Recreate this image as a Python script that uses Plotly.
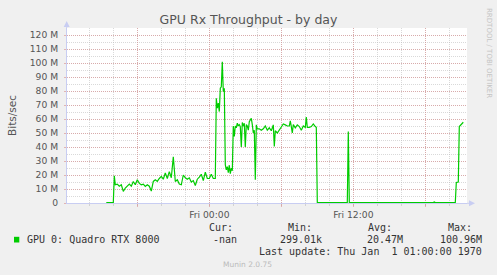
import plotly.graph_objects as go

# ---- data (Mbit/s) ----
times = [
    "2024-01-04 15:25", "2024-01-04 16:00", "2024-01-04 16:05", "2024-01-04 16:10",
    "2024-01-04 16:20", "2024-01-04 16:30", "2024-01-04 16:40", "2024-01-04 16:50",
    "2024-01-04 17:00", "2024-01-04 17:10", "2024-01-04 17:20", "2024-01-04 17:30",
    "2024-01-04 17:40", "2024-01-04 17:50", "2024-01-04 18:00", "2024-01-04 18:10",
    "2024-01-04 18:20", "2024-01-04 18:30", "2024-01-04 18:40", "2024-01-04 18:50",
    "2024-01-04 19:00", "2024-01-04 19:10", "2024-01-04 19:20", "2024-01-04 19:30",
    "2024-01-04 19:40", "2024-01-04 19:50", "2024-01-04 20:00", "2024-01-04 20:10",
    "2024-01-04 20:20", "2024-01-04 20:30", "2024-01-04 20:40", "2024-01-04 20:50",
    "2024-01-04 21:00", "2024-01-04 21:10", "2024-01-04 21:20", "2024-01-04 21:30",
    "2024-01-04 21:40", "2024-01-04 21:50", "2024-01-04 22:00", "2024-01-04 22:10",
    "2024-01-04 22:20", "2024-01-04 22:30", "2024-01-04 22:40", "2024-01-04 22:50",
    "2024-01-04 23:00", "2024-01-04 23:10", "2024-01-04 23:20", "2024-01-04 23:30",
    "2024-01-04 23:40", "2024-01-04 23:50", "2024-01-05 00:00", "2024-01-05 00:10",
    "2024-01-05 00:20", "2024-01-05 00:30", "2024-01-05 00:35", "2024-01-05 00:40",
    "2024-01-05 00:45", "2024-01-05 00:50", "2024-01-05 00:55", "2024-01-05 01:00",
    "2024-01-05 01:05", "2024-01-05 01:10", "2024-01-05 01:15", "2024-01-05 01:20",
    "2024-01-05 01:25", "2024-01-05 01:30", "2024-01-05 01:35", "2024-01-05 01:40",
    "2024-01-05 01:45", "2024-01-05 01:50", "2024-01-05 01:55", "2024-01-05 02:00",
    "2024-01-05 02:05", "2024-01-05 02:10", "2024-01-05 02:15", "2024-01-05 02:20",
    "2024-01-05 02:25", "2024-01-05 02:30", "2024-01-05 02:35", "2024-01-05 02:40",
    "2024-01-05 02:45", "2024-01-05 02:50", "2024-01-05 02:55", "2024-01-05 03:00",
    "2024-01-05 03:05", "2024-01-05 03:10", "2024-01-05 03:15", "2024-01-05 03:20",
    "2024-01-05 03:25", "2024-01-05 03:30", "2024-01-05 03:35", "2024-01-05 03:40",
    "2024-01-05 03:45", "2024-01-05 03:50", "2024-01-05 03:55", "2024-01-05 04:00",
    "2024-01-05 04:10", "2024-01-05 04:20", "2024-01-05 04:30", "2024-01-05 04:40",
    "2024-01-05 04:50", "2024-01-05 05:00", "2024-01-05 05:10", "2024-01-05 05:20",
    "2024-01-05 05:25", "2024-01-05 05:30", "2024-01-05 05:40", "2024-01-05 05:50",
    "2024-01-05 06:00", "2024-01-05 06:10", "2024-01-05 06:20", "2024-01-05 06:30",
    "2024-01-05 06:40", "2024-01-05 06:45", "2024-01-05 06:50", "2024-01-05 06:55",
    "2024-01-05 07:00", "2024-01-05 07:10", "2024-01-05 07:20", "2024-01-05 07:30",
    "2024-01-05 07:40", "2024-01-05 07:50", "2024-01-05 08:00", "2024-01-05 08:05",
    "2024-01-05 08:10", "2024-01-05 08:20", "2024-01-05 08:30", "2024-01-05 08:40",
    "2024-01-05 08:50", "2024-01-05 08:55", "2024-01-05 09:00", "2024-01-05 11:30",
    "2024-01-05 11:35", "2024-01-05 11:40", "2024-01-05 18:40", "2024-01-05 18:45",
    "2024-01-05 18:50", "2024-01-05 20:30", "2024-01-05 20:35", "2024-01-05 20:40",
    "2024-01-05 20:45", "2024-01-05 20:50", "2024-01-05 20:55", "2024-01-05 21:00",
    "2024-01-05 21:05", "2024-01-05 21:10",
]
rx_mbits = [
    0.3, 0.3, 19.5, 13,
    13.5, 12, 13, 8.3,
    10.7, 12, 13.5, 12,
    15.4, 13, 16.6, 14,
    13, 13.5, 11.8, 13,
    12, 8.5, 15.4, 16.6,
    15.4, 17.5, 19, 17,
    21.5, 17.5, 22.4, 18,
    33, 15.4, 16.6, 13.5,
    13, 20, 18, 17,
    18, 15, 16, 12.5,
    17, 18.5, 20.5, 16,
    22, 17.5, 17.5, 20.5,
    17.5, 17.5, 74.8, 67.7,
    71.3, 65.3, 82, 83,
    100.96, 79.5, 82, 27.3,
    23.7, 26, 21.7, 27,
    21, 25, 23, 55,
    47.5, 55, 53.7, 57,
    55, 56, 54.6, 40,
    57.5, 55, 57, 40,
    56, 55, 52, 58,
    59.5, 60.5, 56, 50,
    52, 16.6, 55.8, 53,
    53, 52, 53, 55,
    52, 53.7, 51.6, 55.8,
    40.3, 51.6, 50, 52,
    54.6, 56.5, 55.8, 55,
    55, 58.6, 54.6, 50,
    56, 53.7, 55.8, 54.6,
    52, 55, 54, 61.3,
    54, 54, 54.6, 56.5,
    54.6, 54, 0.3, 0.3,
    51, 0.3, 0.3, 0.8,
    0.3, 0.3, 14.7, 14.7,
    15, 54.6, 55.5, 56.5,
    57, 57.7,
]

y_tickvals = [0, 10, 20, 30, 40, 50, 60, 70, 80, 90, 100, 110, 120]
y_ticktext = ["0", "10 M", "20 M", "30 M", "40 M", "50 M", "60 M", "70 M",
              "80 M", "90 M", "100 M", "110 M", "120 M"]
x_tickvals = ["2024-01-04 18:00", "2024-01-05 00:00", "2024-01-05 06:00",
              "2024-01-05 12:00", "2024-01-05 18:00"]
x_ticktext = ["", "Fri 00:00", "", "Fri 12:00", ""]
x_range = ["2024-01-04 12:08:30", "2024-01-05 21:28:30"]
y_range = [0, 125]

series_name = "GPU 0: Quadro RTX 8000"
stat_cur, stat_min, stat_avg, stat_max = "-nan", "299.01k", "20.47M", "100.96M"

# ---- layout helpers (pixel -> paper) ----
W, H = 497, 275
L, R, T, B = 67, 30, 28, 72
PW, PH = W - L - R, H - T - B


def px(x):
    return (x - L) / PW


def py(y):
    return (H - B - y) / PH


GREEN = "#00CC00"
TXT = "#333333"
MAJ = "rgba(215,140,140,0.6)"
MIN = "rgba(185,185,185,0.55)"
AXIS = "#c8cdf2"

fig = go.Figure()
fig.add_trace(go.Scatter(x=times, y=rx_mbits, mode="lines",
                         line=dict(color=GREEN, width=1.2),
                         name=series_name, showlegend=False))

fig.update_layout(
    width=W, height=H,
    margin=dict(l=L, r=R, t=T, b=B, pad=0),
    paper_bgcolor="#F0F0F0", plot_bgcolor="#FFFFFF",
    font=dict(family="DejaVu Sans", size=9.2, color="#555555"),
    title=dict(text="GPU Rx Throughput - by day", x=0.5, xref="container",
               xanchor="center", y=1 - 19.5 / H, yref="container", yanchor="middle",
               font=dict(family="DejaVu Sans", size=12.5, color="#555555")),
    showlegend=False,
)

fig.update_xaxes(
    type="date", range=x_range,
    tickmode="array", tickvals=x_tickvals, ticktext=x_ticktext,
    showgrid=True, gridcolor=MAJ, griddash="1px,1px", gridwidth=1,
    ticks="outside", ticklen=3, tickcolor=MAJ, tickwidth=1,
    showline=True, linecolor=AXIS, linewidth=1,
    zeroline=False, ticklabelstandoff=0,
    tickfont=dict(family="DejaVu Sans", size=9.2, color="#555555"),
    minor=dict(dtick=7200000, tick0="2024-01-05 00:00", showgrid=True,
               gridcolor=MIN, griddash="1px,1px", gridwidth=1,
               ticks="outside", ticklen=2, tickcolor=MIN),
)
fig.update_yaxes(
    range=y_range,
    tickmode="array", tickvals=y_tickvals, ticktext=y_ticktext,
    showgrid=True, gridcolor=MAJ, griddash="1px,1px", gridwidth=1,
    ticks="outside", ticklen=2, tickcolor=MAJ,
    showline=True, linecolor=AXIS, linewidth=1,
    zeroline=False, ticklabelstandoff=4,
    tickfont=dict(family="DejaVu Sans", size=9.2, color="#555555"),
    title=dict(text="Bits/sec", standoff=11,
               font=dict(family="DejaVu Sans", size=10.5, color="#555555")),
    minor=dict(dtick=5, tick0=0, showgrid=True, gridcolor=MIN,
               griddash="1px,1px", gridwidth=1),
)

ann = []


def text(s, x, y, xanchor="left", size=10, color=TXT, family="DejaVu Sans Mono", angle=0):
    ann.append(dict(text=s, x=px(x), y=py(y), xref="paper", yref="paper",
                    xanchor=xanchor, yanchor="middle", showarrow=False,
                    borderpad=0, textangle=angle,
                    font=dict(family=family, size=size, color=color)))


text(series_name, 26, 239.5)
text("Cur:", 208, 227.7)
text("Min:", 287, 227.7)
text("Avg:", 367, 227.7)
text("Max:", 447, 227.7)
text(stat_cur, 237.5, 239.5, xanchor="right")
text(stat_min, 323, 239.5, xanchor="right")
text(stat_avg, 403.5, 239.5, xanchor="right")
text(stat_max, 483, 239.5, xanchor="right")
text("Last update: Thu Jan\u00a0 1 01:00:00 1970", 483, 251.7, xanchor="right")
text("Munin 2.0.75", 247.5, 264, xanchor="center", size=7.5, color="#bbbbbb",
     family="DejaVu Sans")
text("RRDTOOL / TOBI OETIKER", 489, 53, xanchor="center", size=7, color="#c4c4c4",
     family="DejaVu Sans", angle=90)
fig.update_layout(annotations=ann)

shapes = [
    # legend colour box
    dict(type="rect", xref="paper", yref="paper", x0=px(14), x1=px(19.3),
         y0=py(242.5), y1=py(236.8), fillcolor=GREEN, line=dict(width=0)),
    # axis extensions and arrow heads
    dict(type="line", xref="paper", yref="paper", x0=px(66.7), x1=px(66.7),
         y0=py(28), y1=py(24), line=dict(color=AXIS, width=1)),
    dict(type="path", xref="paper", yref="paper",
         path=f"M {px(63.7)} {py(27)} L {px(69.7)} {py(27)} L {px(66.7)} {py(21)} Z",
         fillcolor=AXIS, line=dict(width=0)),
    dict(type="line", xref="paper", yref="paper", x0=px(467), x1=px(471),
         y0=py(203.3), y1=py(203.3), line=dict(color=AXIS, width=1)),
    dict(type="path", xref="paper", yref="paper",
         path=f"M {px(469)} {py(200.3)} L {px(469)} {py(206.3)} L {px(475)} {py(203.3)} Z",
         fillcolor=AXIS, line=dict(width=0)),
]
fig.update_layout(shapes=shapes)

fig.write_html("out.html")
